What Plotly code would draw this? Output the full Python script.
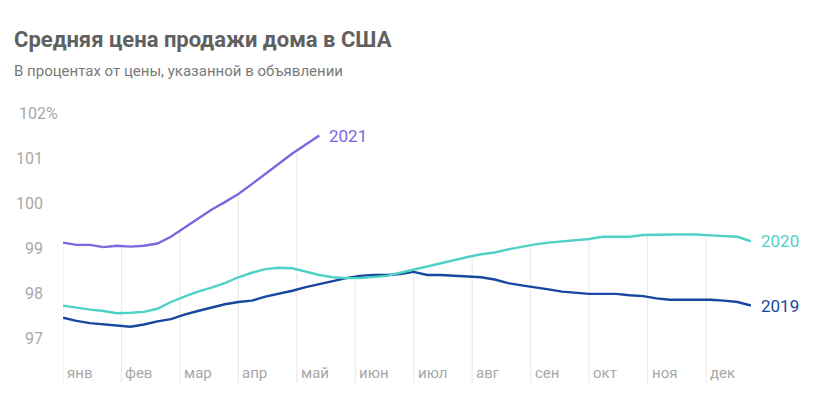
import numpy as np
import plotly.graph_objects as go

# Weekly values, % of list price
months = ["янв", "фев", "мар", "апр", "май", "июн", "июл", "авг", "сен", "окт", "ноя", "дек"]
y2019 = [97.45, 97.38, 97.33, 97.30, 97.27, 97.25, 97.30, 97.37, 97.42, 97.52, 97.60, 97.68, 97.75,
         97.80, 97.83, 97.92, 97.98, 98.05, 98.13, 98.20, 98.27, 98.33, 98.38, 98.40, 98.40, 98.42,
         98.47, 98.40, 98.40, 98.38, 98.36, 98.35, 98.30, 98.22, 98.17, 98.13, 98.08, 98.03, 98.00,
         97.98, 97.98, 97.98, 97.95, 97.93, 97.88, 97.85, 97.85, 97.85, 97.85, 97.83, 97.80, 97.72]
y2020 = [97.72, 97.67, 97.63, 97.60, 97.55, 97.56, 97.58, 97.65, 97.80, 97.92, 98.03, 98.12, 98.22,
         98.35, 98.45, 98.53, 98.56, 98.55, 98.48, 98.40, 98.35, 98.33, 98.33, 98.35, 98.38, 98.45,
         98.52, 98.60, 98.67, 98.73, 98.80, 98.86, 98.90, 98.97, 99.03, 99.08, 99.12, 99.15, 99.18,
         99.20, 99.25, 99.25, 99.25, 99.29, 99.30, 99.30, 99.30, 99.30, 99.28, 99.27, 99.25, 99.15]
y2021 = [99.12, 99.07, 99.07, 99.02, 99.05, 99.03, 99.05, 99.10, 99.25, 99.45, 99.65, 99.85, 100.02,
         100.20, 100.42, 100.65, 100.88, 101.10, 101.30, 101.50]
yticks = [97, 98, 99, 100, 101, 102]

def weeks(n):
    return [i * 12 / 52 for i in range(n)]

x19, x20, x21 = weeks(len(y2019)), weeks(len(y2020)), weeks(len(y2021))
c19, c20, c21 = "#17479e", "#4fd1c5", "#7d66e0"
ybot = 96.0
pw = 688.5  # plot width in px

fig = go.Figure()

# month gridlines rising up to the highest line
for m in range(12):
    tops = [np.interp(m, x19, y2019), np.interp(m, x20, y2020)]
    if m <= x21[-1]:
        tops.append(np.interp(m, x21, y2021))
    fig.add_trace(go.Scatter(x=[m, m], y=[ybot, max(tops)], mode="lines",
                             line=dict(color="#ebebeb", width=1.2), hoverinfo="skip", showlegend=False))
    fig.add_annotation(x=m, y=96.22, text=months[m], showarrow=False, xanchor="left", xshift=2,
                       font=dict(size=15, color="#a8a8a8"))

for xs, ys, col, name in [(x19, y2019, c19, "2019"), (x20, y2020, c20, "2020"), (x21, y2021, c21, "2021")]:
    fig.add_trace(go.Scatter(x=xs, y=ys, mode="lines", line=dict(color=col, width=2.4),
                             name=name, showlegend=False))
    fig.add_annotation(x=xs[-1], y=ys[-1], text=name, showarrow=False, xanchor="left", xshift=8,
                       font=dict(size=17, color=col))

for t in yticks:
    label = f"{t}%" if t == yticks[-1] else str(t)
    xr = -3 / pw if t == yticks[-1] else -18 / pw
    fig.add_annotation(xref="paper", x=xr, y=t, text=label, showarrow=False, xanchor="right",
                       font=dict(size=16, color="#a8a8a8"))

fig.update_layout(
    width=820, height=405, plot_bgcolor="white", paper_bgcolor="white",
    margin=dict(l=55, r=76.5, t=96, b=30),
    font=dict(family="Roboto, Arial, sans-serif"),
    xaxis=dict(range=[0, 11.77], visible=False),
    yaxis=dict(range=[ybot, 102.2], visible=False),
    title=dict(text="<b>Средняя цена продажи дома в США</b><br><span style='font-size:15px;color:#7a7a7a'>"
                    "В процентах от цены, указанной в объявлении</span>",
               x=6 / 820, xanchor="left", y=0.903, yanchor="top",
               font=dict(size=22, color="#606060")),
)

fig.write_html("out.html")
